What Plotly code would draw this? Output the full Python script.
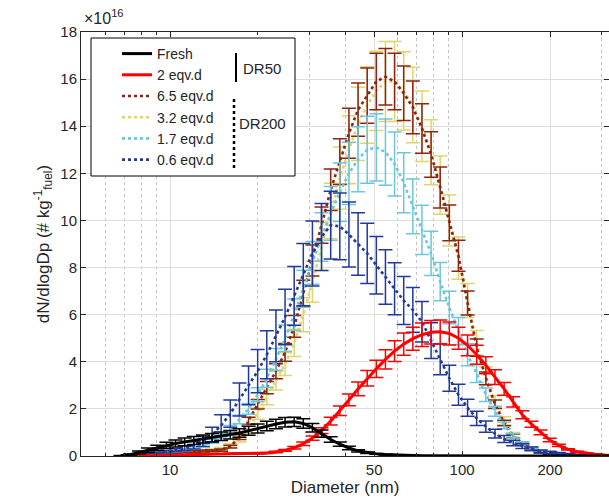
import plotly.graph_objects as go

# ---------------- data (dN/dlogDp in units of 1e16 # kg_fuel^-1) ----------------
diameter_nm = [6.78, 7.29, 7.83, 8.41, 9.04, 9.72, 10.44, 11.22, 12.06, 12.96, 13.93, 14.96,
               16.08, 17.28, 18.57, 19.95, 21.44, 23.04, 24.76, 26.61, 28.59, 30.72, 33.01,
               35.48, 38.13, 40.97, 44.03, 47.32, 50.85, 54.64, 58.72, 63.10, 67.81, 72.87,
               78.31, 84.14, 90.43, 97.18, 104.4, 112.2, 120.6, 129.6, 139.3, 149.6, 160.8,
               172.8, 185.7, 199.5, 214.4, 230.4, 247.6, 266.1, 285.9, 307.2, 330.1]

fresh_mean = [0.01, 0.05, 0.15, 0.25, 0.35, 0.45, 0.53, 0.6, 0.66, 0.72, 0.78, 0.84, 0.9, 0.98,
              1.07, 1.17, 1.27, 1.36, 1.43, 1.45, 1.38, 1.2, 0.95, 0.7, 0.5, 0.34, 0.22, 0.14,
              0.09, 0.06, 0.04, 0.03, 0.02, 0.015, 0.01, 0.01, 0.01, 0.005, 0.005,
              0, 0, 0, 0, 0, 0, 0, 0, 0, 0, 0, 0, 0, 0, 0, 0]
fresh_err = [0.01, 0.03, 0.06, 0.09, 0.11, 0.13, 0.15, 0.16, 0.17, 0.17, 0.18, 0.18, 0.18, 0.18,
             0.19, 0.19, 0.2, 0.2, 0.2, 0.2, 0.2, 0.18, 0.15, 0.12, 0.09, 0.07, 0.05, 0.03,
             0.02, 0.015, 0.01, 0.01, 0.01,
             0, 0, 0, 0, 0, 0, 0, 0, 0, 0, 0, 0, 0, 0, 0, 0, 0, 0, 0, 0, 0, 0]

d2_mean = [0, 0, 0.01, 0.01, 0.02, 0.03, 0.04, 0.05, 0.06, 0.07, 0.08, 0.09, 0.1, 0.11, 0.12,
           0.1, 0.13, 0.17, 0.24, 0.35, 0.52, 0.76, 1.08, 1.48, 1.92, 2.38, 2.85, 3.3, 3.7,
           4.1, 4.45, 4.75, 4.98, 5.15, 5.25, 5.27, 5.2, 5.0, 4.7, 4.3, 3.85, 3.35, 2.85,
           2.3, 1.75, 1.35, 1.0, 0.68, 0.45, 0.28, 0.18, 0.11, 0.07, 0.04, 0.02]
d2_err = [0, 0, 0.005, 0.005, 0.01, 0.01, 0.01, 0.01, 0.01, 0.01, 0.01, 0.01, 0.015, 0.015,
          0.015, 0.02, 0.02, 0.03, 0.04, 0.05, 0.07, 0.09, 0.12, 0.16, 0.2, 0.25, 0.29, 0.33,
          0.37, 0.41, 0.44, 0.47, 0.49, 0.5, 0.5, 0.5, 0.49, 0.47, 0.44, 0.4, 0.36, 0.31,
          0.27, 0.22, 0.17, 0.13, 0.1, 0.07, 0.05, 0.03, 0.02, 0.015, 0.01, 0.01, 0.005]

d65_mean = [0, 0.01, 0.02, 0.05, 0.08, 0.12, 0.15, 0.18, 0.2, 0.21, 0.22, 0.25, 0.4, 0.8,
            1.5, 2.2, 2.9, 3.6, 4.4, 5.5, 6.9, 8.3, 9.8, 11.3, 12.5, 13.7, 14.7, 15.3, 15.9,
            16.1, 15.9, 15.4, 14.8, 13.9, 12.8, 11.4, 9.9, 8.5, 6.5, 4.6, 3.3, 2.2, 1.4,
            0.85, 0.5, 0.28, 0.15, 0.08, 0.04, 0.02, 0.01, 0.01, 0, 0, 0]
d65_err = [0, 0.01, 0.01, 0.02, 0.02, 0.03, 0.03, 0.03, 0.04, 0.04, 0.04, 0.05, 0.06, 0.1,
           0.15, 0.2, 0.26, 0.32, 0.38, 0.46, 0.56, 0.66, 0.77, 0.88, 0.97, 1.06, 1.13, 1.17,
           1.2, 1.2, 1.2, 1.16, 1.12, 1.05, 0.97, 0.87, 0.76, 0.66, 0.51, 0.37, 0.27, 0.18,
           0.12, 0.07, 0.04, 0.03, 0.02, 0.01, 0.01, 0, 0, 0, 0, 0, 0]

d32_mean = [0, 0.01, 0.02, 0.05, 0.08, 0.12, 0.15, 0.18, 0.2, 0.22, 0.25, 0.3, 0.45, 0.7,
            1.1, 1.8, 2.5, 3.2, 3.9, 4.8, 6.0, 7.4, 8.9, 10.4, 11.8, 13.0, 14.1, 14.9, 15.5,
            15.9, 15.9, 15.5, 14.9, 14.0, 12.9, 11.5, 10.0, 8.4, 6.6, 4.8, 3.4, 2.3, 1.5,
            0.9, 0.55, 0.3, 0.16, 0.08, 0.04, 0.02, 0.01, 0.01, 0, 0, 0]
d32_err = [0, 0.01, 0.01, 0.02, 0.03, 0.03, 0.04, 0.04, 0.05, 0.05, 0.05, 0.06, 0.08, 0.11,
           0.16, 0.24, 0.32, 0.4, 0.48, 0.58, 0.72, 0.87, 1.02, 1.18, 1.32, 1.44, 1.55, 1.62,
           1.68, 1.7, 1.7, 1.66, 1.6, 1.5, 1.38, 1.24, 1.08, 0.9, 0.72, 0.53, 0.38, 0.26,
           0.17, 0.1, 0.06, 0.04, 0.02, 0.01, 0.01, 0, 0, 0, 0, 0, 0]

d17_mean = [0.01, 0.03, 0.05, 0.08, 0.11, 0.15, 0.2, 0.26, 0.34, 0.45, 0.62, 0.85, 1.15,
            1.55, 2.0, 2.6, 3.3, 4.1, 5.0, 6.0, 7.1, 8.2, 9.3, 10.3, 11.2, 12.0, 12.6, 13.0,
            13.1, 12.9, 12.4, 11.6, 10.6, 9.6, 8.6, 7.4, 6.3, 5.3, 4.3, 3.5, 2.6, 1.9, 1.3,
            0.85, 0.55, 0.35, 0.22, 0.14, 0.09, 0.05, 0.03, 0.02, 0.01, 0.01, 0]
d17_err = [0, 0.01, 0.01, 0.01, 0.02, 0.02, 0.03, 0.04, 0.05, 0.06, 0.08, 0.1, 0.14, 0.18,
           0.23, 0.3, 0.38, 0.46, 0.56, 0.67, 0.79, 0.91, 1.03, 1.14, 1.24, 1.32, 1.38, 1.42,
           1.43, 1.41, 1.36, 1.27, 1.16, 1.05, 0.94, 0.81, 0.69, 0.58, 0.47, 0.38, 0.29,
           0.21, 0.14, 0.09, 0.06, 0.04, 0.02, 0.015, 0.01, 0.01, 0, 0, 0, 0, 0]

d06_mean = [0.01, 0.03, 0.06, 0.09, 0.13, 0.18, 0.25, 0.33, 0.45, 0.62, 0.9, 1.3, 1.8, 2.4,
            3.0, 3.6, 4.3, 5.1, 5.9, 6.8, 7.7, 8.6, 9.3, 9.8, 9.75, 9.4, 9.0, 8.6, 8.1, 7.6,
            7.1, 6.6, 6.2, 5.7, 4.9, 4.1, 3.3, 2.6, 2.05, 1.6, 1.25, 0.95, 0.72, 0.55, 0.42,
            0.3, 0.2, 0.15, 0.11, 0.08, 0.05, 0.03, 0.02, 0.01, 0.01]
d06_err = [0.005, 0.01, 0.02, 0.03, 0.04, 0.05, 0.07, 0.1, 0.15, 0.22, 0.32, 0.45, 0.58, 0.7,
           0.82, 0.92, 1.02, 1.1, 1.18, 1.25, 1.32, 1.38, 1.42, 1.44, 1.42, 1.38, 1.33, 1.28,
           1.22, 1.16, 1.1, 1.02, 0.95, 0.86, 0.76, 0.65, 0.55, 0.45, 0.36, 0.3, 0.24, 0.19,
           0.15, 0.12, 0.1, 0.08, 0.06, 0.05, 0.04, 0.03, 0.02, 0.02, 0.01, 0.01, 0.01]

series_names = ["Fresh", "2 eqv.d", "6.5 eqv.d", "3.2 eqv.d", "1.7 eqv.d", "0.6 eqv.d"]
x_tick_vals = [10, 50, 100, 200]
x_minor_vals = [6, 7, 8, 9, 20, 30, 40, 60, 70, 80, 90, 300]
y_tick_vals = [0, 2, 4, 6, 8, 10, 12, 14, 16, 18]

# ---------------- styling ----------------
styles = {
    "Fresh":     dict(color="#000000", dash="solid", width=3.0, rank=1),
    "2 eqv.d":   dict(color="#ff0000", dash="solid", width=3.0, rank=2),
    "6.5 eqv.d": dict(color="#8c2410", dash="dot", width=2.6, rank=3),
    "3.2 eqv.d": dict(color="#e2d46a", dash="dot", width=2.6, rank=4),
    "1.7 eqv.d": dict(color="#6cc6dc", dash="dot", width=2.6, rank=5),
    "0.6 eqv.d": dict(color="#22399a", dash="dot", width=2.6, rank=6),
}
data = {
    "Fresh": (fresh_mean, fresh_err),
    "2 eqv.d": (d2_mean, d2_err),
    "6.5 eqv.d": (d65_mean, d65_err),
    "3.2 eqv.d": (d32_mean, d32_err),
    "1.7 eqv.d": (d17_mean, d17_err),
    "0.6 eqv.d": (d06_mean, d06_err),
}
draw_order = ["3.2 eqv.d", "6.5 eqv.d", "1.7 eqv.d", "0.6 eqv.d", "2 eqv.d", "Fresh"]

fig = go.Figure()
for name in draw_order:
    mean, err = data[name]
    st = styles[name]
    fig.add_trace(go.Scatter(
        x=diameter_nm, y=mean, name=name, mode="lines",
        line=dict(color=st["color"], dash=st["dash"], width=st["width"]),
        error_y=dict(type="data", array=err, visible=True, color=st["color"],
                     thickness=1.5, width=7),
        legendrank=st["rank"],
    ))

W, H = 609, 504
L, R, T, B = 81, 0, 32, 48
pw, ph = W - L - R, H - T - B


def px(xp):
    return (xp - L) / pw


def py(yp):
    return (H - B - yp) / ph


axis_color = "#262626"
fig.update_layout(
    width=W, height=H,
    margin=dict(l=L, r=R, t=T, b=B, autoexpand=False),
    plot_bgcolor="white", paper_bgcolor="white",
    font=dict(family="Liberation Sans, Arial, sans-serif", size=15, color=axis_color),
    showlegend=True,
    legend=dict(x=px(117), y=py(38), xanchor="left", yanchor="top",
                bgcolor="rgba(0,0,0,0)", borderwidth=0, tracegroupgap=0,
                font=dict(size=14, color=axis_color)),
    xaxis=dict(type="log", range=[0.695, 2.503], automargin=False,
               tickmode="array", tickvals=x_tick_vals, ticktext=[str(v) for v in x_tick_vals],
               ticks="inside", ticklen=5, tickcolor=axis_color,
               showline=True, linecolor=axis_color, linewidth=1, mirror="ticks",
               showgrid=True, gridcolor="#dedede", gridwidth=1, zeroline=False,
               minor=dict(tickmode="array", tickvals=x_minor_vals, showgrid=True,
                          gridcolor="#c4c4c4", griddash="dot", gridwidth=1,
                          ticks="inside", ticklen=3, tickcolor=axis_color),
               title=dict(text="Diameter (nm)", font=dict(size=17), standoff=2)),
    yaxis=dict(range=[0, 18], tickmode="array", tickvals=y_tick_vals, automargin=False,
               ticks="inside", ticklen=5, tickcolor=axis_color,
               showline=True, linecolor=axis_color, linewidth=1, mirror="ticks",
               showgrid=True, gridcolor="#dedede", gridwidth=1, zeroline=False,
               title=dict(text="dN/dlogDp (# kg<sup>-1</sup><sub>fuel</sub>)",
                          font=dict(size=17), standoff=6)),
)

# legend frame and group brackets
fig.add_shape(type="rect", xref="paper", yref="paper", x0=px(91), x1=px(295), y0=py(176), y1=py(38),
              fillcolor="white", line=dict(color="#000000", width=1), layer="above")
fig.add_shape(type="line", xref="paper", yref="paper", x0=px(236), x1=px(236), y0=py(82), y1=py(53),
              line=dict(color="#000000", width=2), layer="above")
fig.add_shape(type="line", xref="paper", yref="paper", x0=px(234), x1=px(234), y0=py(168), y1=py(98),
              line=dict(color="#000000", width=2.5, dash="dot"), layer="above")
fig.add_annotation(xref="paper", yref="paper", x=px(241), y=py(68), xanchor="left", yanchor="middle",
                   text="DR50", showarrow=False, font=dict(size=15, color=axis_color))
fig.add_annotation(xref="paper", yref="paper", x=px(237), y=py(124), xanchor="left", yanchor="middle",
                   text="DR200", showarrow=False, font=dict(size=15, color=axis_color))
fig.add_annotation(xref="paper", yref="paper", x=px(82), y=py(29), xanchor="left", yanchor="bottom",
                   text="×10<sup>16</sup>", showarrow=False, font=dict(size=16, color=axis_color))

fig.write_html("out.html", config={"displayModeBar": False},
               post_script="document.body.style.margin='0';document.body.style.overflow='hidden';")
